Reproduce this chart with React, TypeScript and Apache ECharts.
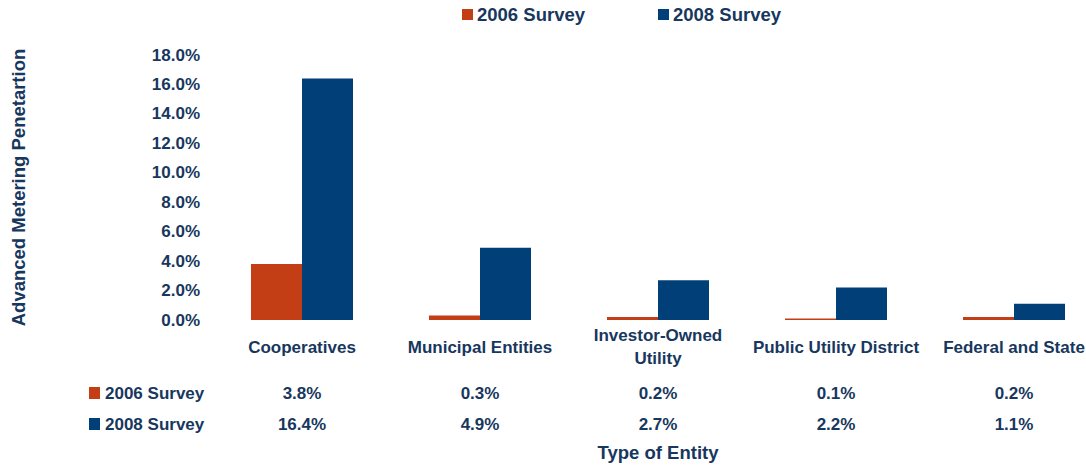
import React, { useEffect, useRef } from "react";
import * as echarts from "echarts";

const categories = [
  "Cooperatives",
  "Municipal Entities",
  "Investor-Owned\nUtility",
  "Public Utility District",
  "Federal and State",
];
const survey2006 = [3.8, 0.3, 0.2, 0.1, 0.2];
const survey2008 = [16.4, 4.9, 2.7, 2.2, 1.1];
const seriesNames = ["2006 Survey", "2008 Survey"];

const TEXT = "#17375E";
const ORANGE = "#C43E15";
const NAVY = "#003F78";
const FONT = "'Liberation Sans', Arial, sans-serif";

const pct = (v: number) => v.toFixed(1) + "%";

export default function App() {
  const ref = useRef<HTMLDivElement>(null);
  useEffect(() => {
    if (!ref.current) return;
    const chart = echarts.init(ref.current, undefined, { renderer: "svg" });
    const baseText = { color: TEXT, fontFamily: FONT, fontWeight: "bold" as const, fontSize: 17 };
    const hiddenAxis = {
      axisLine: { show: false },
      axisTick: { show: false },
      splitLine: { show: false },
    };
    chart.setOption({
      animation: false,
      color: [ORANGE, NAVY],
      textStyle: { fontFamily: FONT },
      legend: [
        {
          data: seriesNames,
          left: 457,
          top: 0,
          itemWidth: 11,
          itemHeight: 11,
          itemGap: 73,
          icon: "rect",
          textStyle: { ...baseText, fontSize: 18.5, padding: [0, 0, 0, -1] },
          selectedMode: false,
        },
        {
          data: seriesNames,
          orient: "vertical",
          left: 84,
          top: 378,
          itemWidth: 11,
          itemHeight: 12,
          itemGap: 11,
          icon: "rect",
          textStyle: { ...baseText, lineHeight: 20 },
          selectedMode: false,
        },
      ],
      grid: {
        left: 213,
        top: 55,
        width: 890,
        height: 265,
        containLabel: false,
        outerBoundsMode: "none",
      },
      xAxis: [
        {
          type: "category",
          data: categories,
          ...hiddenAxis,
          axisLabel: {
            ...baseText,
            interval: 0,
            margin: 27,
            verticalAlign: "middle",
            lineHeight: 23,
          },
          name: "Type of Entity",
          nameLocation: "middle",
          nameGap: 123,
          nameTextStyle: { ...baseText, fontSize: 18.5 },
        },
        {
          type: "category",
          data: categories,
          position: "bottom",
          ...hiddenAxis,
          axisLabel: {
            ...baseText,
            interval: 0,
            margin: 73,
            verticalAlign: "middle",
            formatter: (_v: string, i: number) => pct(survey2006[i]),
          },
        },
        {
          type: "category",
          data: categories,
          position: "bottom",
          ...hiddenAxis,
          axisLabel: {
            ...baseText,
            interval: 0,
            margin: 104,
            verticalAlign: "middle",
            formatter: (_v: string, i: number) => pct(survey2008[i]),
          },
        },
      ],
      yAxis: {
        type: "value",
        min: 0,
        max: 18,
        interval: 2,
        ...hiddenAxis,
        axisLabel: { ...baseText, margin: 13, formatter: (v: number) => pct(v) },
        name: "Advanced Metering Penetartion",
        nameLocation: "middle",
        nameGap: 185,
        nameTextStyle: { ...baseText, fontSize: 18.5 },
      },
      series: [
        {
          name: seriesNames[0],
          type: "bar",
          data: survey2006,
          barWidth: 51,
          barGap: "0%",
          itemStyle: { color: ORANGE },
        },
        {
          name: seriesNames[1],
          type: "bar",
          data: survey2008,
          barWidth: 51,
          barGap: "0%",
          itemStyle: { color: NAVY },
        },
      ],
    });
    return () => chart.dispose();
  }, []);
  return (
    <div
      ref={ref}
      style={{ position: "fixed", left: 0, top: 0, width: 1086, height: 468, background: "#fff" }}
    />
  );
}
